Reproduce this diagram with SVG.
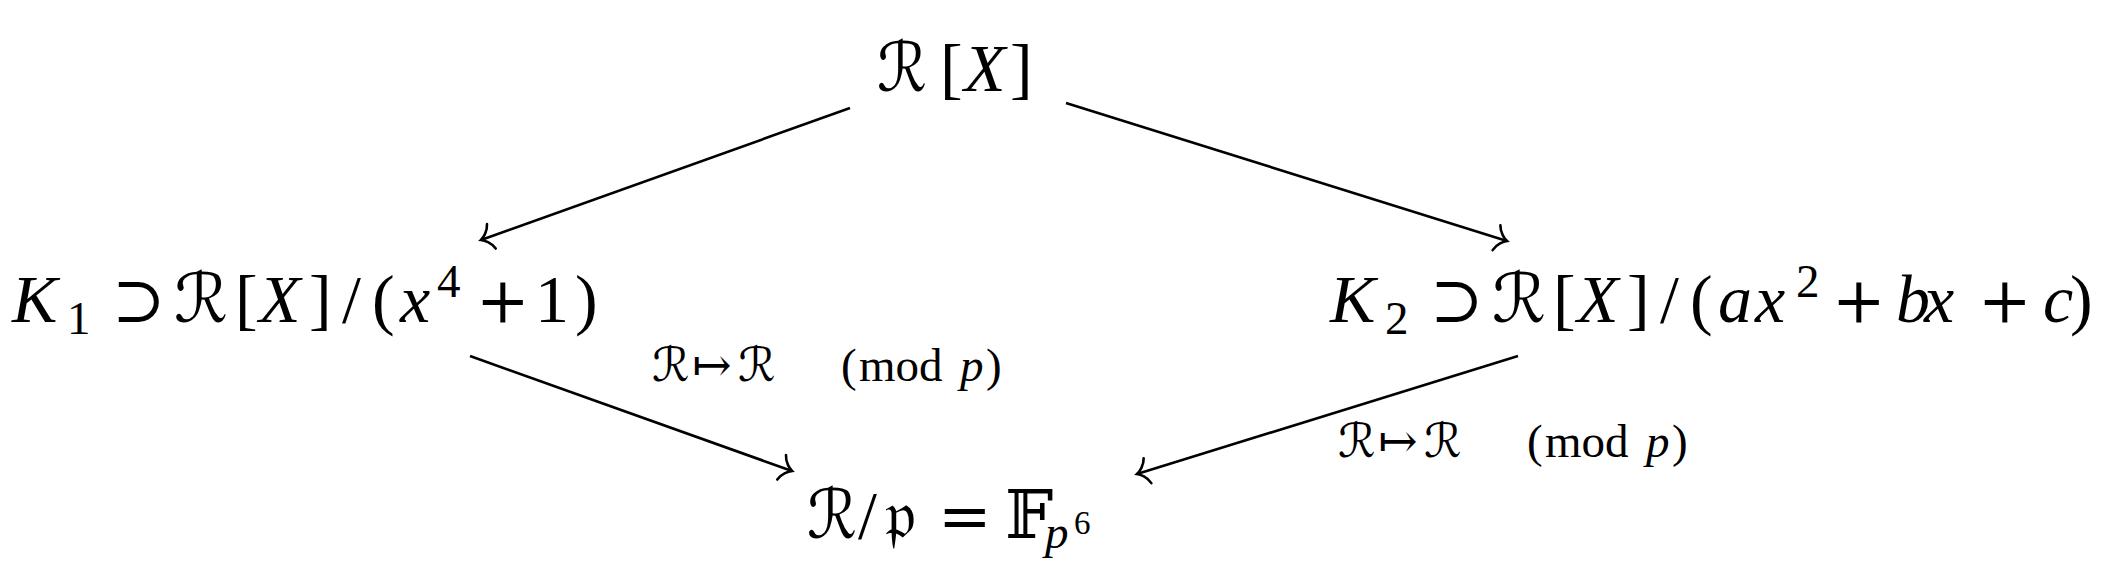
<svg xmlns="http://www.w3.org/2000/svg" width="2112" height="576" viewBox="0 0 2112 576">
<style>
text{fill:#000;font-family:"Liberation Serif","DejaVu Serif",serif}
.m{font-size:68px}
.s{font-size:47px}
.ss{font-size:33px}
.it{font-style:italic}
.sym{font-family:"DejaVu Serif","DejaVu Sans","Noto Sans",serif;font-style:normal}
.op{font-size:64px}
.edge{fill:none;stroke:#000;stroke-width:2.6;marker-end:url(#to)}
</style>
<defs>
<marker id="to" markerUnits="userSpaceOnUse" orient="auto" refX="0" refY="0" markerWidth="34" markerHeight="34" viewBox="-17 -17 34 34" overflow="visible">
<path d="M -11,-13 C -9,-6 -3,-1.4 0,0 C -3,1.4 -9,6 -11,13" fill="none" stroke="#000" stroke-width="2.6" stroke-linecap="round"/>
</marker>
</defs>
<g id="connectors">
<path class="edge" d="M850,108 L481,240"/>
<path class="edge" d="M1066,103 L1507,241"/>
<path class="edge" d="M470,356 L792,471"/>
<path class="edge" d="M1518,356 L1137,474"/>
</g>
<g id="node-RX">
<text class="m sym" x="877" y="91" textLength="50" lengthAdjust="spacingAndGlyphs">ℛ</text>
<text class="m" y="91"><tspan x="940">[</tspan><tspan class="it" x="964">X</tspan><tspan x="1010">]</tspan></text>
</g>
<g id="node-K1">
<text class="m" y="322"><tspan class="it" x="12">K</tspan><tspan class="s" x="67" dy="12">1</tspan><tspan class="sym op" x="112" dy="-12">⊃</tspan></text>
<text class="m sym" x="174" y="322" textLength="54" lengthAdjust="spacingAndGlyphs">ℛ</text>
<text class="m" y="322"><tspan x="235">[</tspan><tspan class="it" x="259">X</tspan><tspan x="309">]</tspan><tspan x="342">/</tspan><tspan x="372">(</tspan><tspan class="it" x="400">x</tspan><tspan class="s" x="437" dy="-25">4</tspan><tspan class="sym op" x="476" dy="25">+</tspan><tspan x="535">1</tspan><tspan x="575">)</tspan></text>
</g>
<g id="node-K2">
<text class="m" y="322"><tspan class="it" x="1330">K</tspan><tspan class="s" x="1385" dy="12">2</tspan><tspan class="sym op" x="1430" dy="-12">⊃</tspan></text>
<text class="m sym" x="1492" y="322" textLength="54" lengthAdjust="spacingAndGlyphs">ℛ</text>
<text class="m" y="322"><tspan x="1553">[</tspan><tspan class="it" x="1577">X</tspan><tspan x="1627">]</tspan><tspan x="1660">/</tspan><tspan x="1690">(</tspan><tspan class="it" x="1718">a</tspan><tspan class="it" x="1755">x</tspan><tspan class="s" x="1796" dy="-25">2</tspan><tspan class="sym op" x="1832" dy="25">+</tspan><tspan class="it" x="1896">b</tspan><tspan class="it" x="1924">x</tspan><tspan class="sym op" x="1978">+</tspan><tspan class="it" x="2043">c</tspan><tspan x="2070">)</tspan></text>
</g>
<g id="node-F">
<text class="m sym" x="807" y="538" textLength="50" lengthAdjust="spacingAndGlyphs">ℛ</text>
<text class="m" y="538"><tspan x="858">/</tspan><tspan class="sym" x="885">𝔭</tspan><tspan class="sym op" x="938">=</tspan><tspan class="sym" x="1005">𝔽</tspan><tspan class="s it" x="1045" dy="10">p</tspan><tspan class="ss" x="1074" dy="-14">6</tspan></text>
</g>
<g id="label-1">
<text class="s" y="381"><tspan class="sym" x="652">ℛ</tspan><tspan class="sym" x="692">↦</tspan><tspan class="sym" x="738">ℛ</tspan><tspan x="841">(</tspan><tspan x="859">mod</tspan><tspan class="it" x="960">p</tspan><tspan x="986">)</tspan></text>
</g>
<g id="label-2">
<text class="s" y="457"><tspan class="sym" x="1338">ℛ</tspan><tspan class="sym" x="1378">↦</tspan><tspan class="sym" x="1424">ℛ</tspan><tspan x="1527">(</tspan><tspan x="1545">mod</tspan><tspan class="it" x="1646">p</tspan><tspan x="1672">)</tspan></text>
</g>
</svg>
